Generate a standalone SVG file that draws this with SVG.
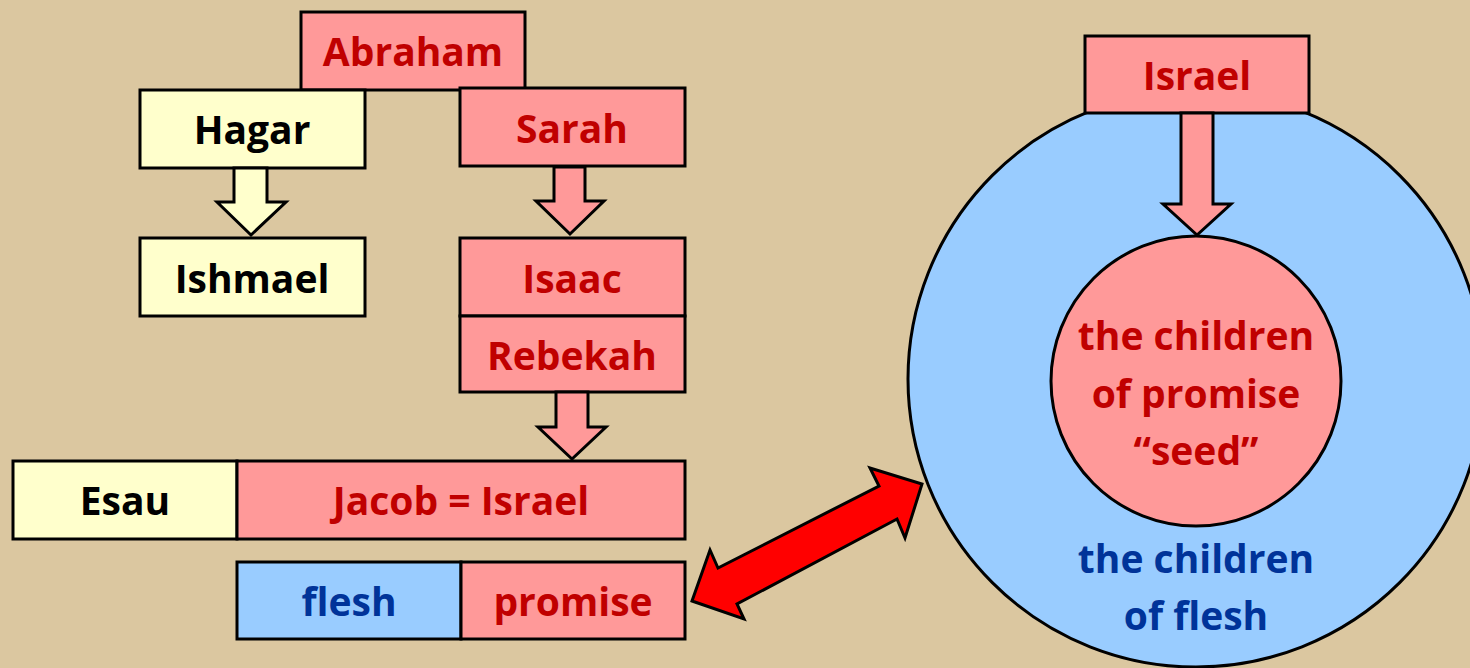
<svg xmlns="http://www.w3.org/2000/svg" width="1470" height="668" viewBox="0 0 1470 668">
<style>
.box{stroke:#000;stroke-width:3}
.pink{fill:#FF9999}
.yel{fill:#FFFFCC}
.blue{fill:#99CCFF}
text{font-family:"Open Sans","Noto Sans",sans-serif;font-weight:bold;font-size:39px;text-anchor:middle}
.tr{fill:#C00000}
.tk{fill:#000}
.tb{fill:#003399}
.arr{stroke:#000;stroke-width:3;stroke-linejoin:miter}
</style>
<rect width="1470" height="668" fill="#DBC7A0"/>
<g id="circle-flesh">
<circle cx="1196" cy="379" r="288" class="box blue"/>
</g>
<g id="abraham"><rect x="301" y="12" width="224" height="78" class="box pink"/><text x="413" y="66" class="tr">Abraham</text></g>
<g id="hagar"><rect x="140" y="90" width="225" height="78" class="box yel"/><text x="252" y="144" class="tk">Hagar</text></g>
<g id="sarah"><rect x="460" y="88" width="225" height="78" class="box pink"/><text x="572" y="143" class="tr">Sarah</text></g>
<g id="ishmael"><rect x="140" y="238" width="225" height="78" class="box yel"/><text x="252" y="293" class="tk">Ishmael</text></g>
<g id="isaac"><rect x="460" y="238" width="225" height="78" class="box pink"/><text x="572" y="293" class="tr">Isaac</text></g>
<g id="rebekah"><rect x="460" y="316" width="225" height="76" class="box pink"/><text x="572" y="370" class="tr">Rebekah</text></g>
<g id="esau"><rect x="13" y="461" width="224" height="78" class="box yel"/><text x="125" y="515" class="tk">Esau</text></g>
<g id="jacob"><rect x="237" y="461" width="448" height="78" class="box pink"/><text x="461" y="515" class="tr">Jacob = Israel</text></g>
<g id="flesh"><rect x="237" y="562" width="224" height="77" class="box blue"/><text x="349" y="616" class="tb">flesh</text></g>
<g id="promise"><rect x="461" y="562" width="224" height="77" class="box pink"/><text x="573" y="616" class="tr">promise</text></g>
<g id="israel"><rect x="1085" y="36" width="224" height="77" class="box pink"/><text x="1197" y="90" class="tr">Israel</text></g>
<g id="children-promise">
<circle cx="1196" cy="381" r="145" class="box pink"/>
<text x="1196" y="350" class="tr">the children</text>
<text x="1196" y="408" class="tr">of promise</text>
<text x="1196" y="465" class="tr">“seed”</text>
</g>
<g id="children-flesh-label">
<text x="1196" y="573" class="tb">the children</text>
<text x="1196" y="630" class="tb">of flesh</text>
</g>
<g id="connectors">
<polygon class="arr yel" points="234,168 267,168 267,202 286,202 251,235 217,202 234,202"/>
<polygon class="arr pink" points="554,167 585,167 585,201 604,201 570,234 536,201 554,201"/>
<polygon class="arr pink" points="556,392 588,392 588,427 606,427 572,459 538,427 556,427"/>
<polygon class="arr pink" points="1181,113 1213,113 1213,204 1231,204 1197,235 1163,204 1181,204"/>
<polygon class="arr" fill="#FF0000" points="692,601 710,550 718,568 879,486 870,468 922,484 905,538 897,519 737,604 744,619"/>
</g>
</svg>
